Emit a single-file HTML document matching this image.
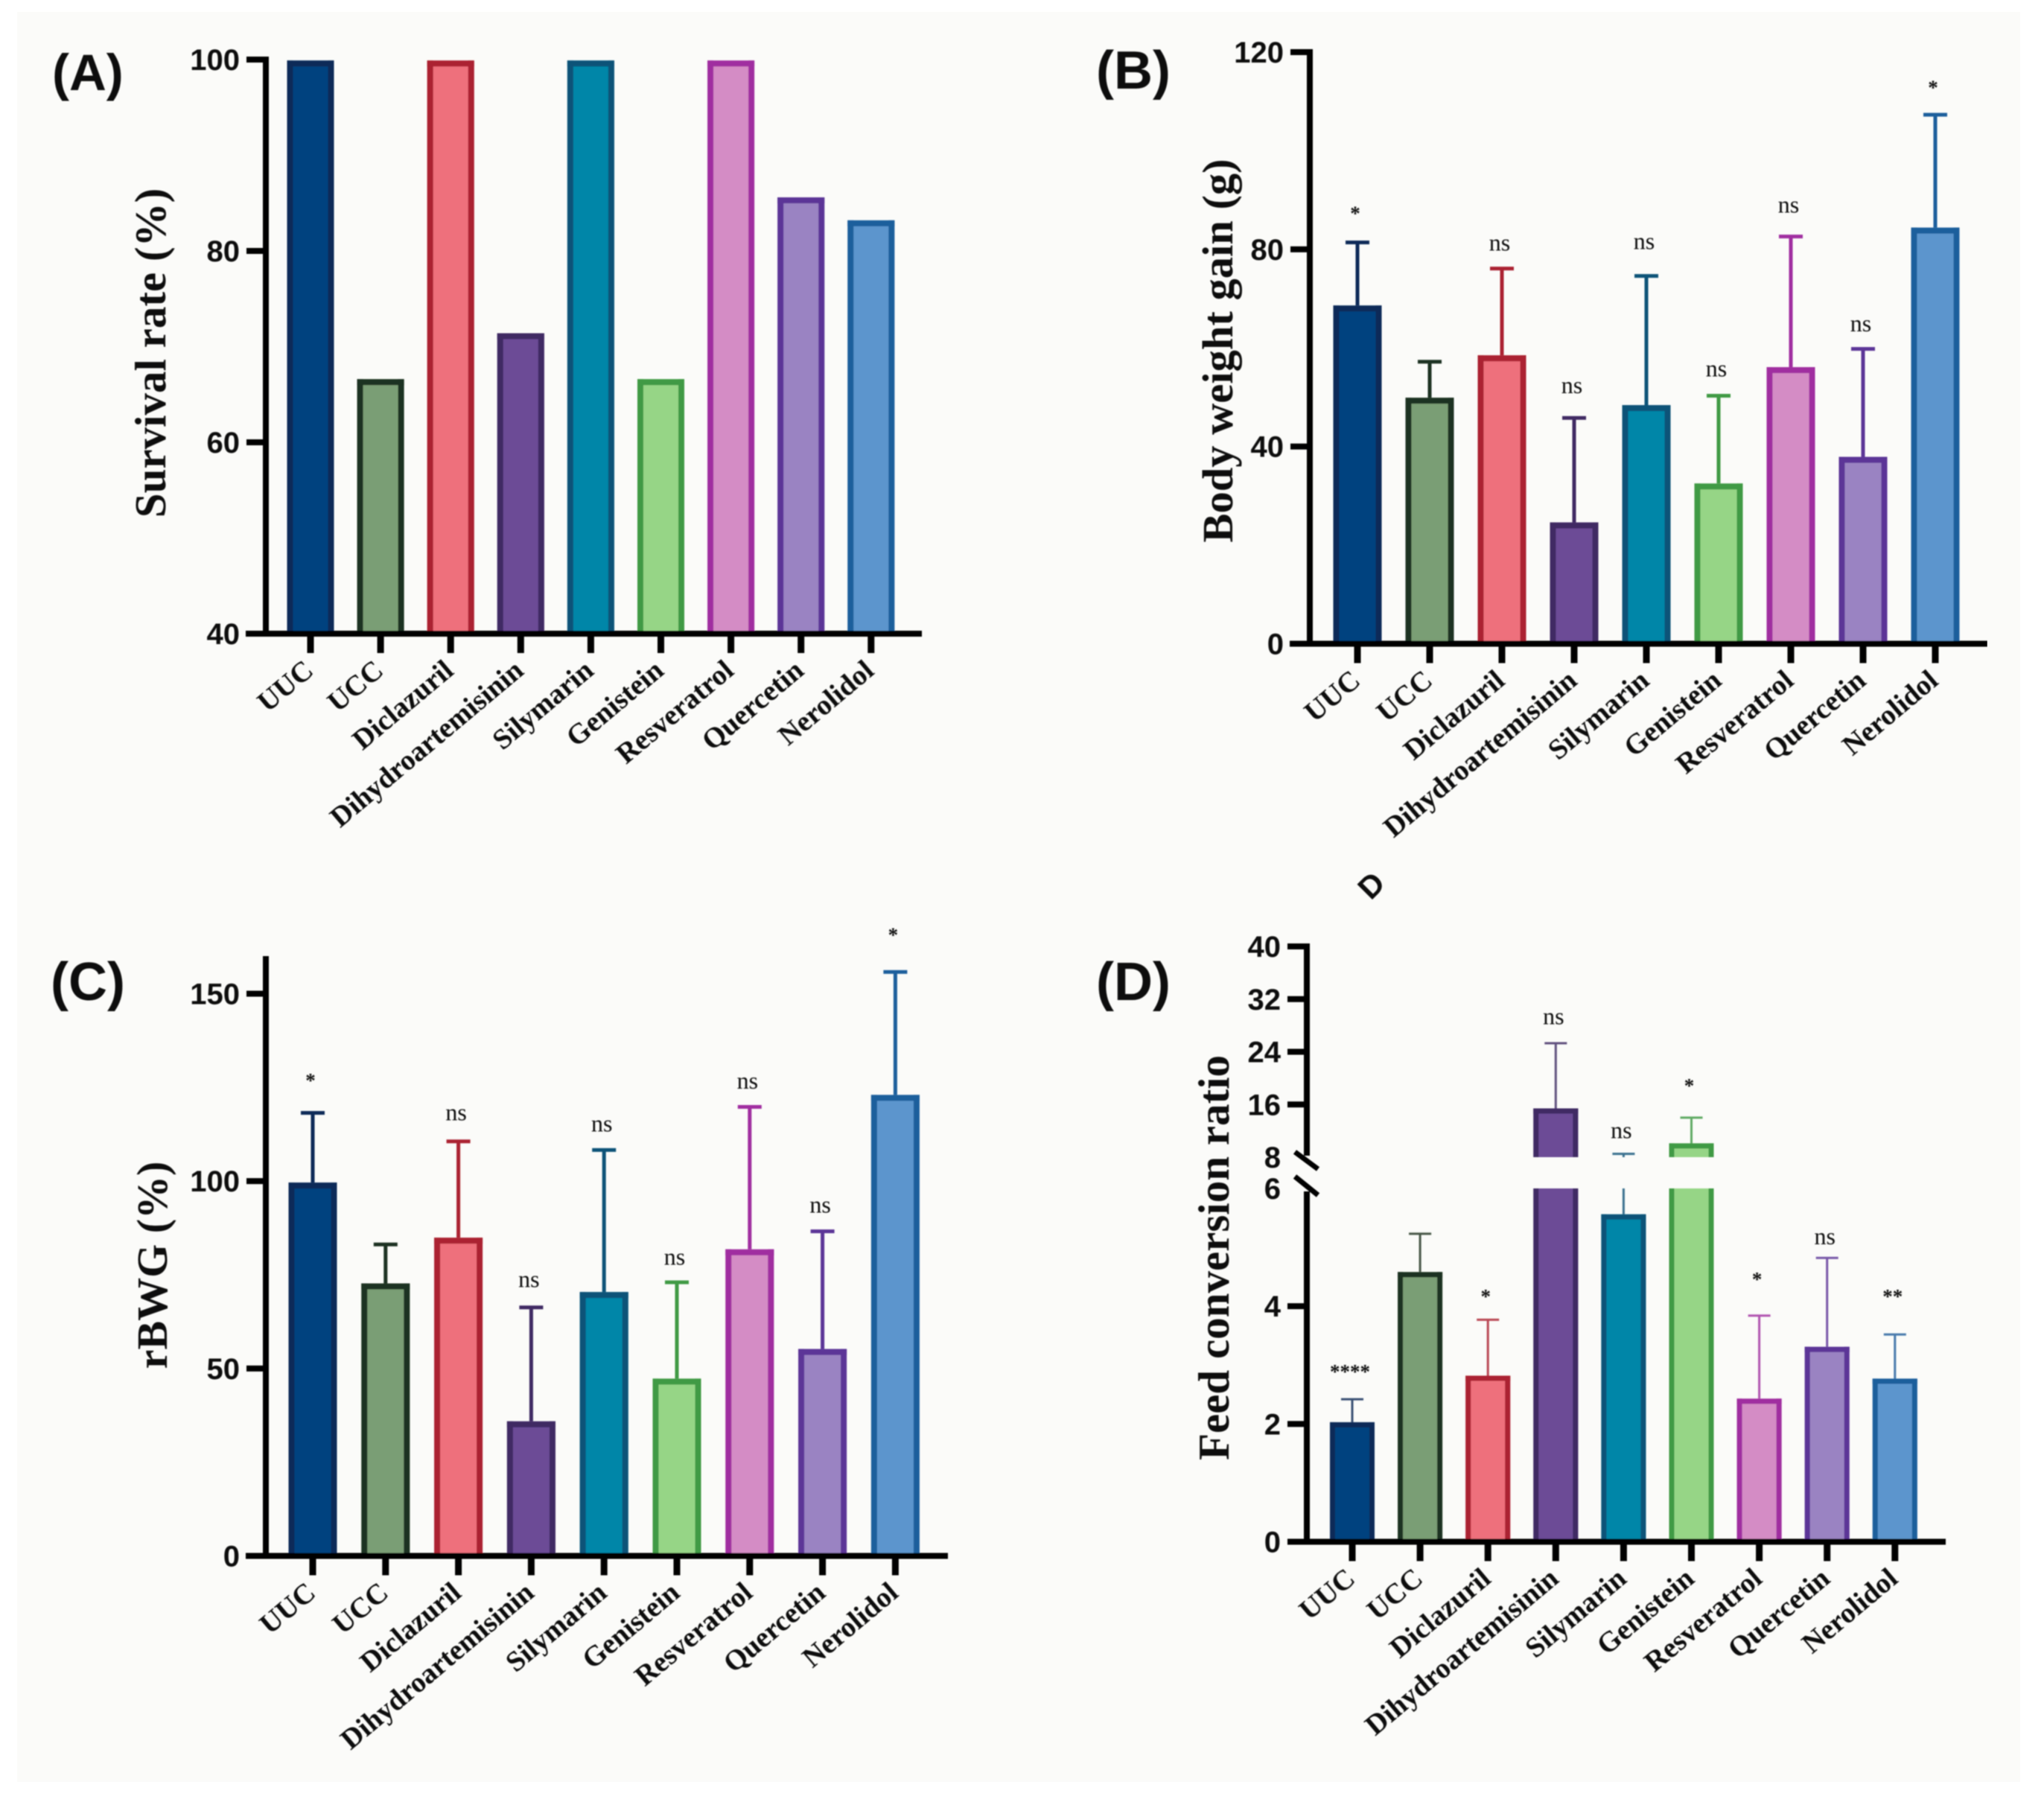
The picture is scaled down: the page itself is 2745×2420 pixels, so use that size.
<!DOCTYPE html>
<html lang="en">
<head>
<meta charset="utf-8">
<title>Anticoccidial performance bar charts</title>
<style>
html,body{margin:0;padding:0;background:#fff;}
svg{display:block;}
text{fill:#0c0c0c;}
</style>
</head>
<body>
<svg id="figure" xmlns="http://www.w3.org/2000/svg" width="2745" height="2420" viewBox="0 0 2745 2420">
  <defs><filter id="soft" x="0" y="0" width="100%" height="100%"><feGaussianBlur stdDeviation="0.8"/></filter></defs>
  <rect x="0" y="0" width="2745" height="2420" fill="#ffffff"/>
  <rect x="23" y="16" width="2690" height="2377" fill="#fbfbf9"/>
  <g id="plot" filter="url(#soft)">
    <text transform="translate(1841,1210) rotate(-45)" font-family="'Liberation Sans',sans-serif" font-weight="bold" font-size="42">D</text>
  </g>
</svg>
<script>
const categories = ['UUC','UCC','Diclazuril','Dihydroartemisinin','Silymarin','Genistein','Resveratrol','Quercetin','Nerolidol'];

const survivalValues = [99.9,66.6,99.9,71.4,99.9,66.6,99.9,85.6,83.2];
const survivalTicks = [40,60,80,100];

const weightGainMeans = [68.6,49.9,58.5,24.6,48.4,32.5,56.1,37.9,84.4];
const weightGainErrors = [81.4,57.2,76.1,45.8,74.6,50.3,82.6,59.8,107.3];
const weightGainMarks = ['*','','ns','ns','ns','ns','ns','ns','*'];
const weightGainMarkLevels = [87.9,0,80.8,51.9,81.1,55.3,88.5,64.4,113.4];
const weightGainTicks = [0,40,80,120];

const rbwgMeans = [99.6,72.7,84.9,35.9,70.4,47.3,81.8,55.2,123];
const rbwgErrors = [118.2,83.1,110.6,66.3,108.3,73,119.8,86.6,155.8];
const rbwgMarks = ['*','','ns','ns','ns','ns','ns','ns','*'];
const rbwgMarkLevels = [127.6,0,117.6,73.1,114.6,79.1,126.1,93,166.5];
const rbwgTicks = [0,50,100,150];

const fcrMeans = [2.03,4.58,2.82,15.4,5.56,10.1,2.43,3.31,2.77];
const fcrErrors = [2.42,5.23,3.77,25.3,8.5,14,3.84,4.82,3.52];
const fcrMarks = ['****','','*','ns','ns','*','*','ns','**'];
const fcrMarkLevels = [2.94,0,4.22,29,11.7,19.3,4.51,5.14,4.22];
const fcrLowerTicks = [0,2,4,6];
const fcrUpperTicks = [8,16,24,32,40];

const fillColors = ['#00437f','#7a9e75','#ee6f7c','#6c4b96','#0086a8','#96d586','#d48cc5','#9a83c2','#5b95cd'];
const strokeColors = ['#0f2a58','#1f3320','#ab2030','#3f2a63','#0c5278','#3f9a45','#a02ea0','#5c3497','#1e5f9c'];

const NS = 'http://www.w3.org/2000/svg';
const plot = document.getElementById('plot');
const SANS = "'Liberation Sans',sans-serif";
const SERIF = "'Liberation Serif',serif";

function make(parent, tag, props, content) {
  const node = document.createElementNS(NS, tag);
  for (const key in props) node.setAttribute(key, props[key]);
  if (content !== undefined) node.textContent = content;
  parent.appendChild(node);
  return node;
}

function linearScale(d0, d1, r0, r1) {
  return v => r0 + (v - d0) * (r1 - r0) / (d1 - d0);
}

function drawBarPiece(group, x, w, yTop, yBottom, i, withTop, sw) {
  const fillRect = make(group, 'rect', {x: x - w/2, y: yTop, width: w, height: yBottom - yTop, fill: fillColors[i]});
  
  
  const left = make(group, 'rect', {x: x - w/2, y: yTop, width: sw, height: yBottom - yTop, fill: strokeColors[i]});
  
  
  const right = make(group, 'rect', {x: x + w/2 - sw, y: yTop, width: sw, height: yBottom - yTop, fill: strokeColors[i]});
  
  
  if (withTop) {
    const top = make(group, 'rect', {x: x - w/2, y: yTop, width: w, height: sw, fill: strokeColors[i]});
    
    
  }
}

function drawPanel(cfg) {
  const panel = make(plot, 'g', {});
  
  
  const xPos = i => cfg.x0 + i * cfg.step;

  cfg.means.forEach((value, i) => {
    const x = xPos(i);
    const barGroup = make(panel, 'g', {});
    
    

    if (cfg.errors) {
      const errTop = cfg.y(cfg.errors[i]);
      const color = strokeColors[i];
      const whisker = make(barGroup, 'g', {opacity: cfg.errOpacity});
      
      
      const cap = make(whisker, 'rect', {x: x - cfg.cap/2, y: errTop - cfg.errW/2, width: cfg.cap, height: cfg.errW, fill: color});
      
      
      if (cfg.broken && cfg.errors[i] > cfg.broken.high && value < cfg.broken.low) {
        const stemUpper = make(whisker, 'rect', {x: x - cfg.errW/2, y: errTop, width: cfg.errW, height: cfg.y(cfg.broken.high) - errTop, fill: color});
        
        
        const stemLower = make(whisker, 'rect', {x: x - cfg.errW/2, y: cfg.y(cfg.broken.low), width: cfg.errW, height: cfg.y(value) - cfg.y(cfg.broken.low), fill: color});
        
        
      } else {
        const stem = make(whisker, 'rect', {x: x - cfg.errW/2, y: errTop, width: cfg.errW, height: cfg.y(value) - errTop, fill: color});
        
        
      }
      const mark = cfg.marks[i];
      if (mark) {
        const isStar = mark.charAt(0) === '*';
        const markText = make(barGroup, 'text', {
          x: x - 3, y: cfg.y(cfg.markLevels[i]) + (isStar ? 13 : 7), 'text-anchor': 'middle',
          'font-family': SERIF, 'font-size': isStar ? 27 : 32, 'font-weight': isStar ? 'bold' : 'normal'
        }, mark);
        
        
      }
    }

    if (cfg.broken && value > cfg.broken.high) {
      drawBarPiece(barGroup, x, cfg.barW, cfg.y(value), cfg.y(cfg.broken.high), i, true, cfg.sw);
      drawBarPiece(barGroup, x, cfg.barW, cfg.y(cfg.broken.low), cfg.y(0), i, false, cfg.sw);
    } else {
      drawBarPiece(barGroup, x, cfg.barW, cfg.y(value), cfg.baseY, i, true, cfg.sw);
    }

    const xTick = make(panel, 'rect', {x: x - 4.5, y: cfg.baseY, width: 9, height: 26, fill: '#000'});
    
    

    const catLabel = make(panel, 'text', {
      transform: 'translate(' + (x + 6) + ',' + (cfg.baseY + 53) + ') rotate(-40)',
      'text-anchor': 'end', 'font-family': SERIF, 'font-weight': 'bold', 'font-size': 38.5
    }, categories[i]);
    
    
  });

  const xAxis = make(panel, 'rect', {x: cfg.xStart, y: cfg.baseY - 4, width: cfg.xEnd - cfg.xStart, height: 8, fill: '#000'});
  
  

  cfg.axisSegments.forEach(seg => {
    const yAxis = make(panel, 'rect', {x: cfg.axisX - 4, y: seg[0], width: 8, height: seg[1] - seg[0], fill: '#000'});
    
    
  });

  cfg.ticks.forEach(t => {
    const py = cfg.y(t);
    const noMark = cfg.broken && (t === cfg.broken.low || t === cfg.broken.high);
    if (!noMark) {
      const yTick = make(panel, 'rect', {x: cfg.axisX - 26, y: py - 4, width: 26, height: 8, fill: '#000'});
      
      
    }
    const tickText = make(panel, 'text', {
      x: cfg.axisX - 35, y: py + 14, 'text-anchor': 'end',
      'font-family': SANS, 'font-weight': 'bold', 'font-size': 40
    }, String(t));
    
    
  });

  const title = make(panel, 'text', {
    transform: 'translate(' + cfg.titleX + ',' + cfg.titleY + ') rotate(-90)',
    'text-anchor': 'middle', 'font-family': SERIF, 'font-weight': 'bold', 'font-size': cfg.titleSize
  }, cfg.title);
  
  

  const letter = make(panel, 'text', {
    x: cfg.letterX, y: cfg.letterY, 'font-family': SANS, 'font-weight': 'bold', 'font-size': cfg.letterSize
  }, cfg.letter);
  
  

  if (cfg.broken) {
    [[1547,1570],[1580,1605]].forEach(s => {
      const slash = make(panel, 'line', {x1: cfg.axisX - 16, y1: s[0], x2: cfg.axisX + 15, y2: s[1], stroke: '#000', 'stroke-width': 7});
      
      
    });
  }
}

const yA = linearScale(40, 100, 851, 80);
const yB = linearScale(0, 120, 864.5, 70);
const yC = linearScale(0, 150, 2089.5, 1334.5);
const yDLower = linearScale(0, 6, 2070.5, 1596);
const yDUpper = linearScale(8, 40, 1554, 1271);
const yD = v => v <= 6 ? yDLower(v) : yDUpper(v);

drawPanel({
  name: 'panel-a-survival-rate', letter: '(A)', letterX: 70, letterY: 121, letterSize: 69,
  title: 'Survival rate (%)', titleX: 222, titleY: 474, titleSize: 59,
  means: survivalValues, ticks: survivalTicks, y: yA,
  x0: 417, step: 94.1, barW: 63, sw: 8, baseY: 851, axisX: 357,
  xStart: 330, xEnd: 1238, axisSegments: [[76,851]]
});
drawPanel({
  name: 'panel-b-body-weight-gain', letter: '(B)', letterX: 1472, letterY: 119, letterSize: 72,
  title: 'Body weight gain (g)', titleX: 1655, titleY: 471, titleSize: 58.5,
  means: weightGainMeans, errors: weightGainErrors, marks: weightGainMarks, markLevels: weightGainMarkLevels, errOpacity: 1, ticks: weightGainTicks, y: yB,
  x0: 1823, step: 97, barW: 65, sw: 8, cap: 32, errW: 5, baseY: 864.5, axisX: 1759,
  xStart: 1732, xEnd: 2669, axisSegments: [[66,864]]
});
drawPanel({
  name: 'panel-c-rbwg', letter: '(C)', letterX: 68, letterY: 1343, letterSize: 72,
  title: 'rBWG (%)', titleX: 224, titleY: 1699, titleSize: 58,
  means: rbwgMeans, errors: rbwgErrors, marks: rbwgMarks, markLevels: rbwgMarkLevels, errOpacity: 1, ticks: rbwgTicks, y: yC,
  x0: 420, step: 97.8, barW: 65, sw: 8, cap: 32, errW: 5, baseY: 2089.5, axisX: 357,
  xStart: 330, xEnd: 1273, axisSegments: [[1284,2089]]
});
drawPanel({
  name: 'panel-d-feed-conversion-ratio', letter: '(D)', letterX: 1472, letterY: 1343, letterSize: 72,
  title: 'Feed conversion ratio', titleX: 1650, titleY: 1689, titleSize: 59,
  means: fcrMeans, errors: fcrErrors, marks: fcrMarks, markLevels: fcrMarkLevels, errOpacity: 0.82, ticks: fcrLowerTicks.concat(fcrUpperTicks), y: yD,
  broken: {low: 6, high: 8},
  x0: 1816, step: 91.1, barW: 60, sw: 7, cap: 30, errW: 3, baseY: 2070.5, axisX: 1755,
  xStart: 1732, xEnd: 2613, axisSegments: [[1267,1552],[1600,2070]]
});
</script>
</body>
</html>
